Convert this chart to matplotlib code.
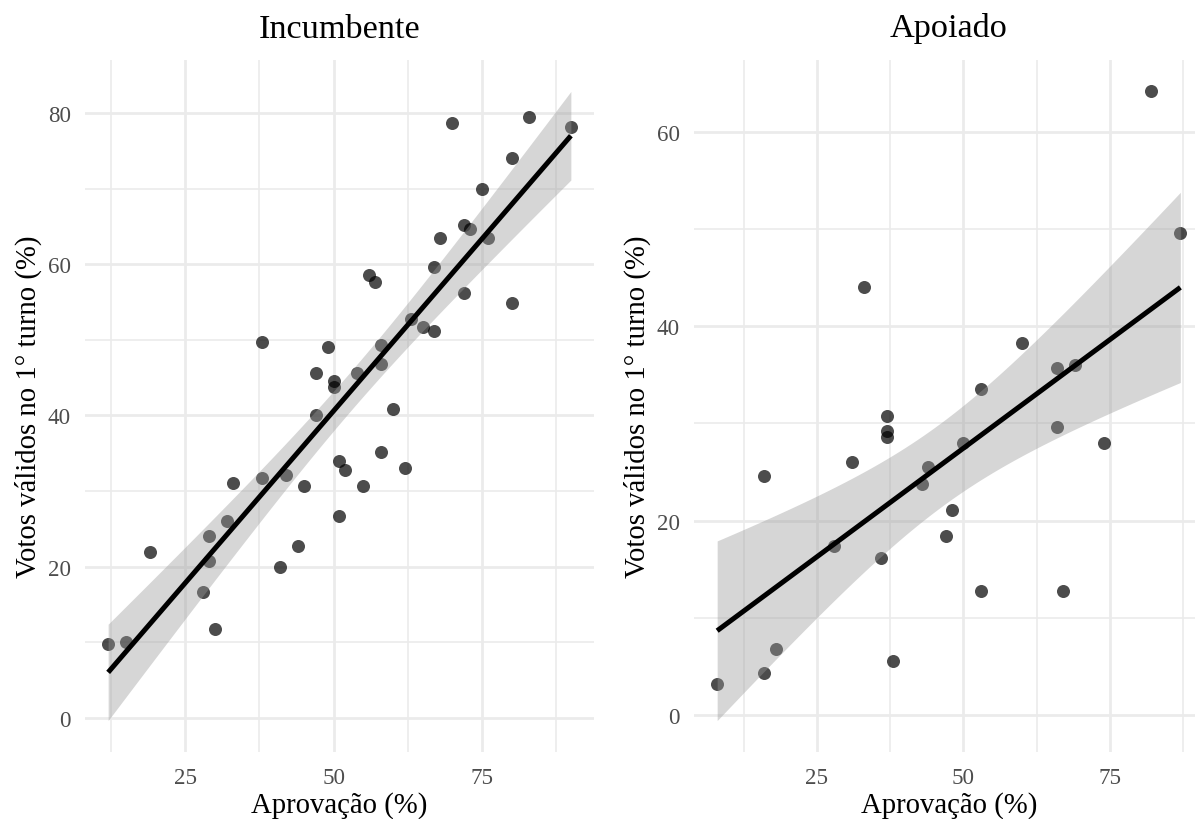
import numpy as np
import matplotlib
matplotlib.use("Agg")
import matplotlib.pyplot as plt
from matplotlib.ticker import MultipleLocator

# ---------------- data ----------------
panel_titles = ["Incumbente", "Apoiado"]
x_label = "Aprovação (%)"
y_label = "Votos válidos no 1° turno (%)"

incumbente_aprov = [70, 83, 90, 80, 75, 72, 73, 68, 76, 67, 56, 57, 72, 80, 63, 65,
                    67, 38, 49, 58, 58, 47, 54, 50, 50, 47, 60, 58, 51, 52, 62, 33,
                    38, 42, 45, 55, 51, 32, 29, 44, 19, 41, 29, 28, 30, 12, 15]
incumbente_votos = [78.6, 79.4, 78.1, 74.0, 70.0, 65.2, 64.6, 63.4, 63.4, 59.6, 58.5,
                    57.7, 56.2, 54.9, 52.8, 51.7, 51.1, 49.7, 49.1, 49.3, 46.8, 45.6,
                    45.6, 44.6, 43.7, 40.1, 40.8, 35.1, 34.0, 32.8, 33.1, 31.0, 31.7,
                    32.1, 30.6, 30.6, 26.7, 26.0, 24.1, 22.7, 21.9, 20.0, 20.8, 16.7,
                    11.7, 9.8, 10.0]

apoiado_aprov = [82, 87, 33, 60, 53, 66, 69, 37, 37, 37, 66, 50, 74, 31, 16, 44,
                 43, 48, 47, 28, 36, 53, 67, 18, 16, 38, 8]
apoiado_votos = [64.2, 49.6, 44.1, 38.3, 33.5, 35.7, 36.0, 30.8, 29.2, 28.6, 29.6,
                 28.0, 28.0, 26.0, 24.6, 25.5, 23.8, 21.1, 18.4, 17.4, 16.1, 12.7,
                 12.7, 6.8, 4.3, 5.5, 3.2]

x_ticks = [25, 50, 75]
y_ticks_list = [[0, 20, 40, 60, 80], [0, 20, 40, 60]]

# ---------------- helpers ----------------
def t975(df):
    z = 1.959963985
    g1 = (z**3 + z) / 4
    g2 = (5*z**5 + 16*z**3 + 3*z) / 96
    g3 = (3*z**7 + 19*z**5 + 17*z**3 - 15*z) / 384
    g4 = (79*z**9 + 776*z**7 + 1482*z**5 - 1920*z**3 - 945*z) / 92160
    return z + g1/df + g2/df**2 + g3/df**3 + g4/df**4

def lm_fit(x, y, n_grid=80):
    x = np.asarray(x, float); y = np.asarray(y, float)
    n = len(x)
    b, a = np.polyfit(x, y, 1)
    resid = y - (a + b*x)
    s = np.sqrt(np.sum(resid**2) / (n - 2))
    xbar = x.mean(); sxx = np.sum((x - xbar)**2)
    xg = np.linspace(x.min(), x.max(), n_grid)
    yg = a + b*xg
    se = s * np.sqrt(1/n + (xg - xbar)**2 / sxx)
    t = t975(n - 2)
    return xg, yg, yg - t*se, yg + t*se

def expand(lo, hi, f=0.05):
    r = hi - lo
    return lo - f*r, hi + f*r

# ---------------- figure ----------------
W, H = 1195, 820
fig = plt.figure(figsize=(W/100, H/100), dpi=100)
fig.patch.set_facecolor("white")

serif = ["Liberation Serif", "DejaVu Serif"]
grid_col = "#EBEBEB"
tick_col = "#4D4D4D"

# pixel boxes (left, right, top, bottom)
boxes = [(85, 594, 61, 753), (694, 1203.5, 61, 753)]
datasets = [(incumbente_aprov, incumbente_votos), (apoiado_aprov, apoiado_votos)]

for i, ((L, R, T, B), (xs, ys)) in enumerate(zip(boxes, datasets)):
    ax = fig.add_axes([L/W, 1 - B/H, (R - L)/W, (B - T)/H])
    ax.set_facecolor("white")
    for sp in ax.spines.values():
        sp.set_visible(False)

    xg, yg, lo, hi = lm_fit(xs, ys)

    ax.scatter(xs, ys, s=88, color="black", alpha=0.7, linewidths=0, zorder=3)
    ax.fill_between(xg, lo, hi, color="#999999", alpha=0.4, linewidth=0, zorder=4)
    ax.plot(xg, yg, color="black", linewidth=3.6, solid_capstyle="butt", zorder=5)

    ax.set_xlim(*expand(min(xs), max(xs)))
    ylo = min(min(ys), lo.min()); yhi = max(max(ys), hi.max())
    ax.set_ylim(*expand(ylo, yhi))

    ax.set_xticks(x_ticks)
    ax.set_yticks(y_ticks_list[i])
    ax.xaxis.set_minor_locator(MultipleLocator(12.5))
    ax.yaxis.set_minor_locator(MultipleLocator(10))
    ax.grid(True, which="major", color=grid_col, linewidth=1.95, zorder=0)
    ax.grid(True, which="minor", color=grid_col, linewidth=1.2, zorder=0)
    ax.set_axisbelow(True)
    ax.tick_params(which="both", length=0)
    ax.tick_params(axis="x", pad=10.5, labelsize=16.6, labelcolor=tick_col)
    ax.tick_params(axis="y", pad=10, labelsize=16.6, labelcolor=tick_col)
    for lab in ax.get_xticklabels() + ax.get_yticklabels():
        lab.set_family(serif)

    cx = (L + R) / 2
    fig.text(cx/W, 1 - 37.5/H, panel_titles[i], ha="center", va="baseline",
             fontsize=24.7, family=serif, color="black")
    fig.text(cx/W, 1 - 813/H, x_label, ha="center", va="baseline",
             fontsize=20.7, family=serif, color="black")
    fig.text((L - 49.5)/W, 1 - ((T + B)/2)/H, y_label, ha="center", va="baseline",
             rotation=90, rotation_mode="anchor", fontsize=20.7, family=serif,
             color="black")

fig.savefig("out.png", dpi=100, facecolor="white")
